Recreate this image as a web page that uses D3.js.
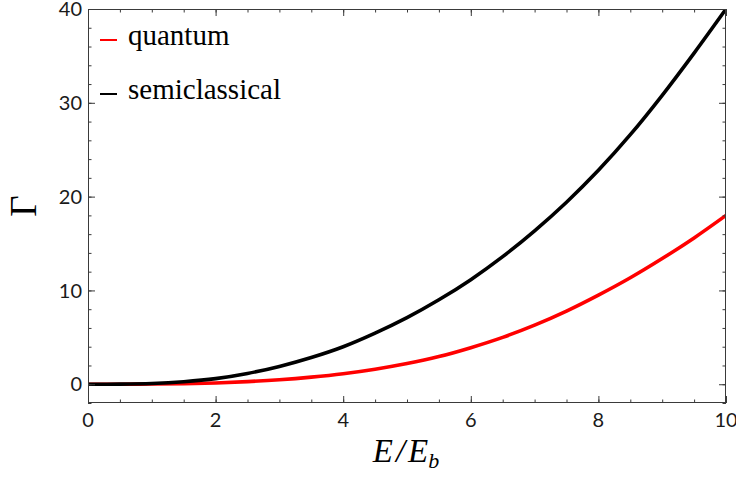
<!DOCTYPE html>
<html>
<head>
<meta charset="utf-8">
<script src="https://cdn.jsdelivr.net/npm/d3@7"></script>
<style>
  body { margin: 0; background: #fff; }
  .tick-label { font-family: Lato, "Noto Sans", sans-serif; font-size: 20px; fill: #1a1a1a; }
  .serif { font-family: "Liberation Serif", "DejaVu Serif", serif; fill: #000; }
</style>
</head>
<body>
<div id="chart"></div>
<script>
// values
const energy = [0, 0.5, 1, 1.5, 2, 2.5, 3, 3.5, 4, 4.5, 5, 5.5, 6, 6.5, 7, 7.5, 8, 8.5, 9, 9.5, 10];
const quantum = [0, 0, 0.02, 0.06, 0.14, 0.28, 0.48, 0.76, 1.12, 1.6, 2.2, 2.95, 3.9, 5.0, 6.3, 7.8, 9.5, 11.35, 13.4, 15.6, 18];
const semiclassical = [0, 0.01, 0.08, 0.27, 0.6, 1.15, 1.9, 2.85, 4.0, 5.45, 7.1, 9.0, 11.15, 13.6, 16.35, 19.4, 22.8, 26.6, 30.8, 35.3, 40];
const xTicks = [0, 2, 4, 6, 8, 10];
const yTicks = [0, 10, 20, 30, 40];
const seriesNames = ['quantum', 'semiclassical'];
const seriesColors = ['#ff0000', '#000000'];

const width = 736, height = 482;
const margin = {left: 88, right: 10, top: 9, bottom: 79};

const svg = d3.select('#chart').append('svg')
    .attr('width', width)
    .attr('height', height);

const x = d3.scaleLinear().domain([0, 10]).range([margin.left, width - margin.right]);
const y = d3.scaleLinear().domain([-2, 40]).range([height - margin.bottom, margin.top]);

const plotW = width - margin.left - margin.right;
const plotH = height - margin.top - margin.bottom;

svg.append('clipPath').attr('id', 'clip')
    .append('rect')
    .attr('x', margin.left).attr('y', margin.top)
    .attr('width', plotW).attr('height', plotH);

// curves
const line = d3.line()
    .x(d => x(d[0]))
    .y(d => y(d[1]))
    .curve(d3.curveCatmullRom);

[quantum, semiclassical].forEach((vals, i) => {
    svg.append('path')
        .attr('clip-path', 'url(#clip)')
        .attr('d', line(energy.map((e, j) => [e, vals[j]])))
        .attr('fill', 'none')
        .attr('stroke', seriesColors[i])
        .attr('stroke-width', 3.6)
        .attr('stroke-linejoin', 'round');
});

// frame with inward ticks on all four sides
const frameColor = '#3a3a3a';
const minorX = d3.range(0, 10.01, 0.5);
const minorY = d3.range(-2, 40.01, 2);

function inward(g) {
    g.select('.domain').remove();
    g.selectAll('.tick line').attr('stroke', frameColor);
    g.selectAll('.tick text').remove();
}

const sides = [
    [d3.axisBottom, x, minorX, xTicks, `translate(0,${height - margin.bottom})`],
    [d3.axisTop, x, minorX, xTicks, `translate(0,${margin.top})`],
    [d3.axisLeft, y, minorY, yTicks, `translate(${margin.left},0)`],
    [d3.axisRight, y, minorY, yTicks, `translate(${width - margin.right},0)`]
];
sides.forEach(([axis, scale, minor, major, tr]) => {
    svg.append('g').attr('transform', tr)
        .call(axis(scale).tickValues(minor).tickSize(-3.5)).call(inward);
    svg.append('g').attr('transform', tr)
        .call(axis(scale).tickValues(major).tickSize(-7)).call(inward);
});

svg.append('rect')
    .attr('x', margin.left + 0.5).attr('y', margin.top + 0.5)
    .attr('width', plotW - 1).attr('height', plotH - 1)
    .attr('fill', 'none')
    .attr('stroke', frameColor)
    .attr('stroke-width', 1);

// tick labels
svg.append('g').selectAll('text').data(xTicks).join('text')
    .attr('class', 'tick-label')
    .attr('x', d => x(d))
    .attr('y', height - margin.bottom + 24)
    .attr('text-anchor', 'middle')
    .text(d => d);

svg.append('g').selectAll('text').data(yTicks).join('text')
    .attr('class', 'tick-label')
    .attr('x', margin.left - 6)
    .attr('y', d => y(d))
    .attr('dy', '0.36em')
    .attr('text-anchor', 'end')
    .text(d => d);

// axis titles
const xTitle = svg.append('text')
    .attr('class', 'serif')
    .attr('x', 406)
    .attr('y', 462)
    .attr('text-anchor', 'middle')
    .style('font-size', '33px')
    .style('font-style', 'italic');
xTitle.append('tspan').text('E');
xTitle.append('tspan').attr('dx', 3).text('/');
xTitle.append('tspan').attr('dx', 3).text('E');
xTitle.append('tspan').attr('dy', 6).style('font-size', '22px').text('b');

svg.append('text')
    .attr('class', 'serif')
    .attr('transform', `translate(36,${y(19)}) rotate(-90)`)
    .attr('text-anchor', 'middle')
    .style('font-size', '37px')
    .text('Γ');

// legend
const legend = svg.append('g').selectAll('g').data(seriesNames).join('g')
    .attr('transform', (d, i) => `translate(100,${40 + i * 54})`);
legend.append('line')
    .attr('x1', 0).attr('x2', 17)
    .attr('stroke', (d, i) => seriesColors[i])
    .attr('stroke-width', 2);
legend.append('text')
    .attr('class', 'serif')
    .attr('x', 28)
    .attr('y', 5)
    .style('font-size', '29px')
    .text(d => d);
</script>
</body>
</html>
